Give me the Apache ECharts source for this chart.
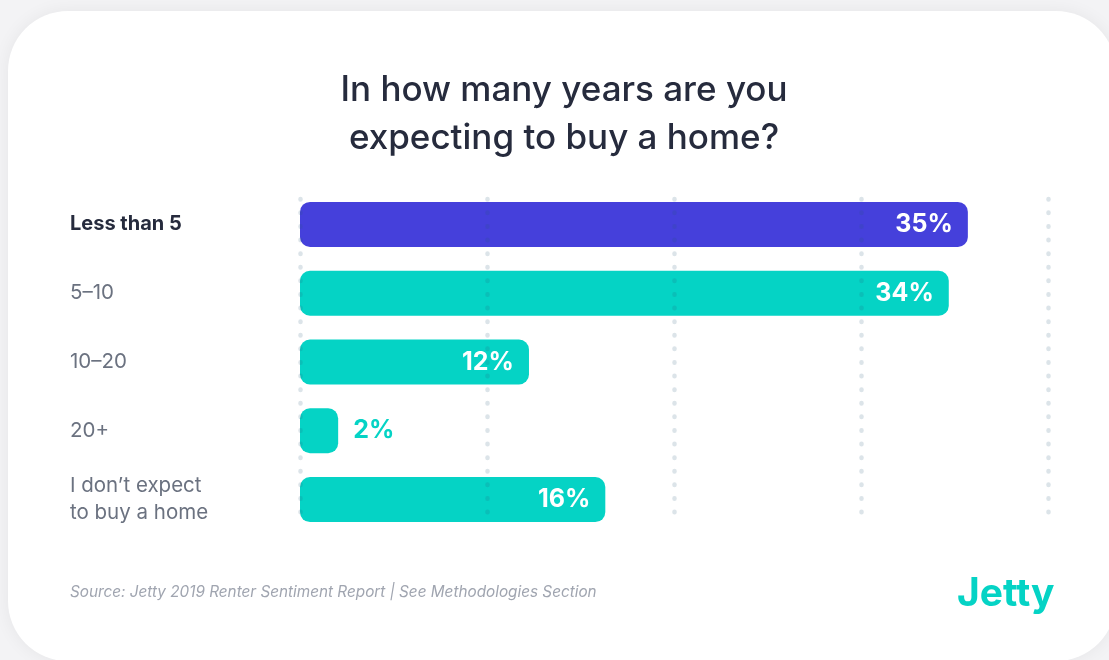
<!DOCTYPE html>
<html>
<head>
<meta charset="utf-8">
<script src="https://cdn.jsdelivr.net/npm/echarts@6/dist/echarts.min.js"></script>
<style>
  html, body { margin: 0; padding: 0; width: 1109px; height: 660px; overflow: hidden; background: #f3f3f5; }
  #card { position: absolute; left: 8px; top: 11px; width: 1108px; height: 650px; background: #ffffff;
          border-radius: 60px; box-shadow: 0 0 18px rgba(0,0,0,0.06); }
  #chart { position: absolute; left: 0; top: 0; width: 1109px; height: 660px; }
</style>
</head>
<body>
<div id="card"></div>
<div id="chart"></div>
<script>
// Survey answers, top to bottom
const categories = ['Less than 5', '5–10', '10–20', '20+', 'I don’t expect\nto buy a home'];
const shares = [35, 34, 12, 2, 16];
const highlightIndex = 0;

const titleText = 'In how many years are you\nexpecting to buy a home?';
const sourceText = 'Source: Jetty 2019 Renter Sentiment Report | See Methodologies Section';
const brandText = 'Jetty';

const PURPLE = '#4540db';
const TEAL = '#05d3c5';
const FONT = 'Inter, "Noto Sans", sans-serif';

const chart = echarts.init(document.getElementById('chart'), null, { renderer: 'canvas' });

const barData = shares.map((v, i) => ({
  value: v,
  itemStyle: { color: i === highlightIndex ? PURPLE : TEAL },
  label: v < 5
    ? { position: 'right', distance: 15, color: TEAL }
    : { position: 'insideRight', distance: 15, color: '#ffffff' }
}));

const option = {
  animation: false,
  grid: [
    // dotted reference lines
    { left: 300, width: 748, top: 199, height: 320, containLabel: false },
    // bars
    { left: 300, width: 748, top: 190, height: 344, containLabel: false }
  ],
  xAxis: [
    {
      gridIndex: 0, type: 'value', min: 0, max: 39.2, interval: 9.8, z: 10,
      axisLine: { show: false }, axisTick: { show: false }, axisLabel: { show: false },
      splitLine: { show: true, lineStyle: { color: 'rgba(40,90,120,0.16)', width: 4.5, cap: 'round', type: [0.5, 13.1] } }
    },
    {
      gridIndex: 1, type: 'value', min: 0, max: 39.2,
      axisLine: { show: false }, axisTick: { show: false }, axisLabel: { show: false }, splitLine: { show: false }
    }
  ],
  yAxis: [
    { gridIndex: 0, type: 'category', data: categories, show: false },
    {
      gridIndex: 1, type: 'category', data: categories, inverse: true,
      axisLine: { show: false }, axisTick: { show: false },
      axisLabel: {
        margin: 230, align: 'left', fontFamily: FONT, fontSize: 20.5, lineHeight: 27, color: '#6b7280',
        formatter: (v, i) => i === highlightIndex ? '{hl|' + v + '}' : v,
        rich: { hl: { fontFamily: FONT, fontSize: 20, fontWeight: 700, color: '#262b3d' } }
      }
    }
  ],
  series: [{
    type: 'bar',
    xAxisIndex: 1, yAxisIndex: 1,
    data: barData,
    barWidth: 45,
    itemStyle: { borderRadius: 10 },
    label: {
      show: true,
      formatter: '{c}%',
      fontFamily: FONT, fontSize: 25, fontWeight: 700
    }
  }],
  graphic: [
    {
      type: 'text', x: 564, y: 66,
      style: {
        text: titleText, align: 'center', verticalAlign: 'top',
        fontFamily: FONT, fontSize: 35, fontWeight: 500, fill: '#262b3d', lineHeight: 48
      }
    },
    {
      type: 'text', left: 70, top: 585,
      style: { text: sourceText, fontFamily: FONT, fontSize: 15.3, fontStyle: 'italic', fill: '#a0a5b0' }
    },
    {
      type: 'text', left: 957, top: 575,
      style: { text: brandText, fontFamily: FONT, fontSize: 39, fontWeight: 700, fill: TEAL }
    }
  ]
};

chart.setOption(option);
</script>
</body>
</html>
